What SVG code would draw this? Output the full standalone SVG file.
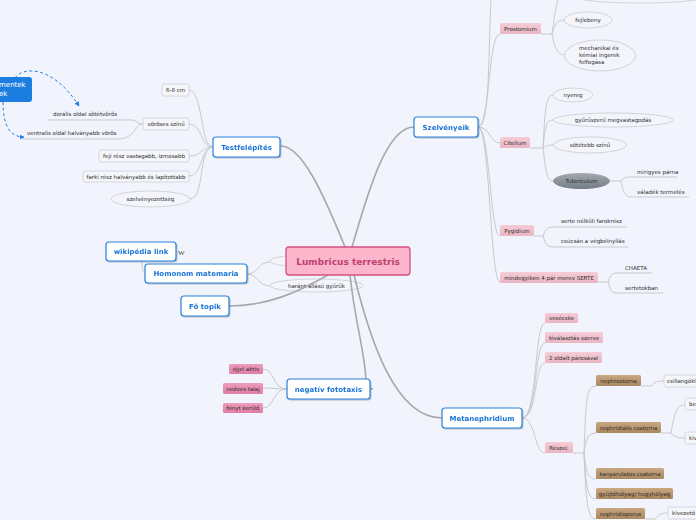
<svg xmlns="http://www.w3.org/2000/svg" width="696" height="520" viewBox="0 0 696 520">
<defs>
<filter id="sh" x="-10%" y="-20%" width="130%" height="160%"><feDropShadow dx="0.8" dy="1" stdDeviation="0.7" flood-color="#000" flood-opacity="0.25"/></filter>
<linearGradient id="gb" x1="0" y1="0" x2="0" y2="1"><stop offset="0" stop-color="#c9a882"/><stop offset="1" stop-color="#a9875f"/></linearGradient>
<linearGradient id="gp" x1="0" y1="0" x2="0" y2="1"><stop offset="0" stop-color="#f5ccd6"/><stop offset="1" stop-color="#eab6c3"/></linearGradient>
<linearGradient id="gdp" x1="0" y1="0" x2="0" y2="1"><stop offset="0" stop-color="#ee9cbc"/><stop offset="1" stop-color="#e07ea4"/></linearGradient>
<linearGradient id="gg" x1="0" y1="0" x2="0" y2="1"><stop offset="0" stop-color="#a4aab1"/><stop offset="1" stop-color="#737b84"/></linearGradient>
<marker id="ar" viewBox="0 0 10 10" refX="9" refY="5" markerWidth="5" markerHeight="5" orient="auto"><path d="M0,0 L10,5 L0,10 z" fill="#2a7fdc"/></marker>
<style>
.mainr{fill:#fff;stroke:#2b80da;stroke-width:1.2}
.mt{font-family:"DejaVu Sans",Verdana,sans-serif;font-weight:bold;font-size:7px;fill:#1b74d8;text-anchor:middle}
.ct{font-family:"DejaVu Sans",Verdana,sans-serif;font-size:5.5px;fill:#2e2e2e}
.cm{text-anchor:middle}
.gbox{fill:#f5f6fa;stroke:#cfd0d6;stroke-width:0.8}
.pbox{fill:url(#gp)}
.dpbox{fill:url(#gdp)}
.bbox{fill:url(#gb)}
.ell{fill:#f3f5fb;stroke:#c9cacf;stroke-width:0.8}
.c1{fill:none;stroke:#a8a8aa;stroke-width:1.6}
.c2{fill:none;stroke:#c9c9cd;stroke-width:1}
.dash{fill:none;stroke:#2a7fdc;stroke-width:1;stroke-dasharray:3,2.5}
</style>
</defs>
<rect width="696" height="520" fill="#f1f4fd"/>

<g id="n-empty-ellipse"><ellipse class="ell" cx="300" cy="261" rx="30" ry="5.5"/></g>
<g id="n-harant"><ellipse class="ell" cx="316.5" cy="285.5" rx="46.5" ry="6.5"/><text class="ct" x="288" y="288">haránt állású gyűrűk</text></g>

<g id="connectors">
<path class="c1" d="M281,146 C302,146 324,195 345,247"/>
<path class="c1" d="M352,247 C366,200 385,127 414,127"/>
<path class="c1" d="M354,275 C370,340 395,418 442,418"/>
<path class="c1" d="M350,275 C356,330 366,355 366,383 Q366,389 373,389"/>
<path class="c1" d="M229,306 C268,306 298,292 328,275"/>
<path class="c2" d="M247,274 C258,274 258,262 270,262"/>
<path class="c2" d="M247,274 C258,274 258,286 270,286"/>
<path class="c2" d="M142,262 C142,270 143,273 145,273"/>
<path class="c2" d="M213,147 C200,147 203,90 189,90"/>
<path class="c2" d="M213,147 C200,147 203,124 189,124"/>
<path class="c2" d="M213,147 C200,147 203,156 189,156"/>
<path class="c2" d="M213,147 C200,147 203,176 189,176"/>
<path class="c2" d="M213,147 C198,147 205,199 190,199"/>
<path class="c2" d="M143,124 C136,124 138,120 132,120 L48,120"/>
<path class="c2" d="M143,124 C134,124 136,139 117,139 L22,139"/>
<path class="dash" d="M15,78 C22,67 52,64 79,106" marker-end="url(#ar)"/>
<path class="dash" d="M3,102 C3,126 10,137 24,137" marker-end="url(#ar)"/>
<path class="c2" d="M478,127 C490,127 488,60 491,0"/>
<path class="c2" d="M478,127 C490,127 488,34 500,34"/>
<path class="c2" d="M478,127 C490,127 490,143 500,143"/>
<path class="c2" d="M478,127 C490,127 490,236 500,236"/>
<path class="c2" d="M478,127 C490,127 490,282 500,282"/>
<path class="c2" d="M541,34 L552,34 C554,20 555,10 558,0"/>
<path class="c2" d="M552,34 C555,24 557,20 564,20"/>
<path class="c2" d="M552,34 C555,50 558,55 565,55"/>
<path class="c2" d="M530,148 L543,148 C545,110 546,95 553,95"/>
<path class="c2" d="M543,148 C545,128 546,120 553,120"/>
<path class="c2" d="M543,148 C546,146 548,145 554,145"/>
<path class="c2" d="M543,148 C546,170 546,181 553,181"/>
<path class="c2" d="M610,181 L621,181 C624,177 626,177 632,177 L677,177"/>
<path class="c2" d="M621,181 C624,195 626,197 632,197 L689,197"/>
<path class="c2" d="M534,236 L543,236 C546,228 548,227 555,227 L627,227"/>
<path class="c2" d="M543,236 C546,246 548,247 555,247 L628,247"/>
<path class="c2" d="M598,282 L608,282 C611,274 612,273 618,273 L652,273"/>
<path class="c2" d="M608,282 C611,292 612,293 618,293 L663,293"/>
<path class="c2" d="M522,418 C538,418 534,323 545,323"/>
<path class="c2" d="M522,418 C538,418 534,343 545,343"/>
<path class="c2" d="M522,418 C538,418 534,363 545,363"/>
<path class="c2" d="M522,418 C536,418 534,453 545,453"/>
<path class="c2" d="M573,453 L584,453 C586,400 586,386 596,386"/>
<path class="c2" d="M584,453 C586,440 587,433 596,433"/>
<path class="c2" d="M584,453 C586,470 587,479 596,479"/>
<path class="c2" d="M584,453 C586,485 587,499 596,499"/>
<path class="c2" d="M584,453 C586,500 587,519 596,519"/>
<path class="c2" d="M641,386 L651,386 C655,382 657,381 664,381"/>
<path class="c2" d="M661,433 L671,433 C675,410 677,405 685,405"/>
<path class="c2" d="M671,433 C675,437 677,438 685,438"/>
<path class="c2" d="M645,519 L655,519 C660,514 662,513 668,513"/>
<path class="c2" d="M287,389 C272,389 275,369 263,369"/>
<path class="c2" d="M287,389 C272,389 275,388 263,388"/>
<path class="c2" d="M287,389 C272,389 275,408 263,408"/>
</g>

<g id="n-center"><rect x="286" y="247" width="124" height="28" rx="3" fill="#fbb6cb" stroke="#d64f80" stroke-width="1.3"/><text x="348" y="264.5" font-family="DejaVu Sans,Verdana,sans-serif" font-weight="bold" font-size="9" fill="#c13f70" text-anchor="middle">Lumbricus terrestris</text></g>

<g id="n-testfelepites" filter="url(#sh)"><rect class="mainr" x="213" y="137" width="67" height="20" rx="3"/><text class="mt" x="246.5" y="149.5">Testfelépítés</text></g>
<g id="n-szelvenyeik" filter="url(#sh)"><rect class="mainr" x="414" y="117" width="64" height="20" rx="3"/><text class="mt" x="446" y="129.5">Szelvényeik</text></g>
<g id="n-metanephridium" filter="url(#sh)"><rect class="mainr" x="442" y="408" width="80" height="20" rx="3"/><text class="mt" x="482" y="420.5">Metanephridium</text></g>
<g id="n-negativ" filter="url(#sh)"><rect class="mainr" x="287" y="379" width="83" height="20" rx="3"/><text class="mt" x="328.5" y="391.5">negatív fototaxis</text></g>
<g id="n-wikipedia" filter="url(#sh)"><rect class="mainr" x="106" y="242" width="70" height="19" rx="3"/><text class="mt" x="141" y="254">wikipédia link</text></g>
<g id="n-wiki-icon"><text x="178" y="255" font-family="Liberation Serif,serif" font-size="7" fill="#333">W</text></g>
<g id="n-homonom" filter="url(#sh)"><rect class="mainr" x="145" y="264" width="102" height="19" rx="3"/><text class="mt" x="196" y="276">Homonom matemaria</text></g>
<g id="n-fotopik" filter="url(#sh)"><rect class="mainr" x="181" y="296" width="48" height="20" rx="3"/><text class="mt" x="205" y="308.5">Fő topik</text></g>

<g id="n-szegmentek"><rect x="-10" y="77" width="42" height="25" rx="3" fill="#1b7ee0"/><text x="-1" y="87" font-family="DejaVu Sans,Verdana,sans-serif" font-size="7" fill="#fff">mentek</text><text x="-1" y="96" font-family="DejaVu Sans,Verdana,sans-serif" font-size="7" fill="#fff">ek</text></g>

<g id="n-68cm"><rect class="gbox" x="162" y="84" width="27" height="12" rx="2"/><text class="ct cm" x="175.5" y="92">6-8 cm</text></g>
<g id="n-voroses"><rect class="gbox" x="143" y="118" width="46" height="12" rx="2"/><text class="ct cm" x="166" y="126">vöröses színű</text></g>
<g id="n-dorsalis"><text class="ct" x="53" y="116">dorális oldal sötétvörös</text></g>
<g id="n-ventralis"><text class="ct" x="27" y="135">ventralis oldal halványabb vörös</text></g>
<g id="n-feji"><rect class="gbox" x="99" y="150" width="90" height="12" rx="2"/><text class="ct cm" x="144" y="158">feji rész vastagabb, izmosabb</text></g>
<g id="n-farki"><rect class="gbox" x="83" y="171" width="106" height="11" rx="2"/><text class="ct cm" x="136" y="178.5">farki rész halványabb és lapítottabb</text></g>
<g id="n-szelvenyezettseg"><ellipse class="ell" cx="150.5" cy="199" rx="39.5" ry="8"/><text class="ct cm" x="150.5" y="201">szelvényezettség</text></g>

<g id="n-ejjel"><rect class="dpbox" x="229" y="364" width="34" height="10" rx="1.5"/><text class="ct cm" x="246" y="371">éjjel aktív</text></g>
<g id="n-nedves"><rect class="dpbox" x="223" y="383" width="40" height="11" rx="1.5"/><text class="ct cm" x="243" y="390.5">nedves talaj</text></g>
<g id="n-fenyt"><rect class="dpbox" x="223" y="403" width="40" height="10" rx="1.5"/><text class="ct cm" x="243" y="410">fényt kerülő</text></g>

<g id="n-top-ellipse"><ellipse class="ell" cx="640" cy="-6" rx="75" ry="9"/></g>
<g id="n-prostomium"><rect class="pbox" x="500" y="23" width="41" height="11" rx="1.5"/><text class="ct cm" x="520.5" y="30.5">Prostomium</text></g>
<g id="n-fejlebeny"><ellipse class="ell" cx="588" cy="20" rx="24" ry="8"/><text class="ct cm" x="588" y="22">fejlebeny</text></g>
<g id="n-mechanikai"><ellipse class="ell" cx="600" cy="55.5" rx="35.5" ry="15.5"/><text class="ct" x="579" y="49.5">mechanikai és</text><text class="ct" x="579" y="56.5">kémiai ingerek</text><text class="ct" x="579" y="63.5">felfogása</text></g>
<g id="n-citellum"><rect class="pbox" x="500" y="137" width="30" height="11" rx="1.5"/><text class="ct cm" x="515" y="144.5">Citellum</text></g>
<g id="n-nyereg"><ellipse class="ell" cx="573" cy="95" rx="20" ry="7"/><text class="ct cm" x="573" y="97">nyereg</text></g>
<g id="n-gyuruszeru"><ellipse class="ell" cx="613" cy="120" rx="60" ry="7"/><text class="ct cm" x="613" y="122">gyűrűszerű megvastagodás</text></g>
<g id="n-sotetebb"><ellipse class="ell" cx="590" cy="145" rx="36.5" ry="8"/><text class="ct cm" x="590" y="147">sötétebb színű</text></g>
<g id="n-tuberculum"><ellipse cx="581.5" cy="181" rx="28.5" ry="8" fill="url(#gg)"/><text class="ct cm" x="581.5" y="183" fill="#1e1e1e">Tuberculum</text></g>
<g id="n-mirigyes"><text class="ct" x="637" y="174">mirigyes párna</text></g>
<g id="n-valadek"><text class="ct" x="637" y="193.5">váladék termelés</text></g>
<g id="n-pygidium"><rect class="pbox" x="500" y="225" width="34" height="11" rx="1.5"/><text class="ct cm" x="517" y="232.5">Pygidium</text></g>
<g id="n-serte-nelkuli"><text class="ct" x="561" y="223">serte nélküli farokrész</text></g>
<g id="n-csucsan"><text class="ct" x="561" y="243">csúcsán a végbélnyílás</text></g>
<g id="n-serte"><rect class="pbox" x="500" y="272" width="98" height="11" rx="1.5"/><text class="ct cm" x="549" y="279.5">mindegyiken 4 pár merev SERTE</text></g>
<g id="n-chaeta"><text class="ct" x="625" y="270">CHAETA</text></g>
<g id="n-sertetokban"><text class="ct" x="625" y="289.5">sertetokban</text></g>

<g id="n-vesecske"><rect class="pbox" x="545" y="313" width="33" height="10" rx="1.5"/><text class="ct cm" x="561.5" y="320">vesécske</text></g>
<g id="n-kivalasztas"><rect class="pbox" x="545" y="332" width="58" height="11" rx="1.5"/><text class="ct cm" x="574" y="339.5">kiválasztás szerve</text></g>
<g id="n-2oldalt"><rect class="pbox" x="545" y="352" width="57" height="11" rx="1.5"/><text class="ct cm" x="573.5" y="359.5">2 oldalt párosával</text></g>
<g id="n-reszei"><rect class="pbox" x="545" y="442" width="28" height="11" rx="1.5"/><text class="ct cm" x="559" y="449.5">Részei:</text></g>
<g id="n-nephrostoma"><rect class="bbox" x="596" y="375" width="45" height="11" rx="1.5"/><text class="ct cm" x="618.5" y="382.5" fill="#2e2215">nephrostoma</text></g>
<g id="n-csillango"><rect class="gbox" x="664" y="375" width="40" height="12" rx="2"/><text class="ct" x="667" y="383">csillangókl</text></g>
<g id="n-nephridialis"><rect class="bbox" x="596" y="422" width="65" height="11" rx="1.5"/><text class="ct cm" x="628.5" y="429.5" fill="#2e2215">nephridiális csatorna</text></g>
<g id="n-be"><rect class="gbox" x="685" y="398" width="20" height="12" rx="2"/><text class="ct" x="689" y="406">be</text></g>
<g id="n-kiv"><rect class="gbox" x="685" y="432" width="20" height="12" rx="2"/><text class="ct" x="689" y="440">kiv</text></g>
<g id="n-kanyarulatos"><rect class="bbox" x="596" y="468" width="68" height="11" rx="1.5"/><text class="ct cm" x="630" y="475.5" fill="#2e2215">kanyarulatos csatorna</text></g>
<g id="n-gyujto"><rect class="bbox" x="596" y="488" width="77" height="11" rx="1.5"/><text class="ct cm" x="634.5" y="495.5" fill="#2e2215">gyűjtőhólyag/ hugyhólyag</text></g>
<g id="n-nephridioporus"><rect class="bbox" x="596" y="508" width="49" height="11" rx="1.5"/><text class="ct cm" x="620.5" y="515.5" fill="#2e2215">nephridioporus</text></g>
<g id="n-kivezeto"><rect class="gbox" x="668" y="507" width="40" height="12" rx="2"/><text class="ct" x="672" y="515">kivezető</text></g>
</svg>
